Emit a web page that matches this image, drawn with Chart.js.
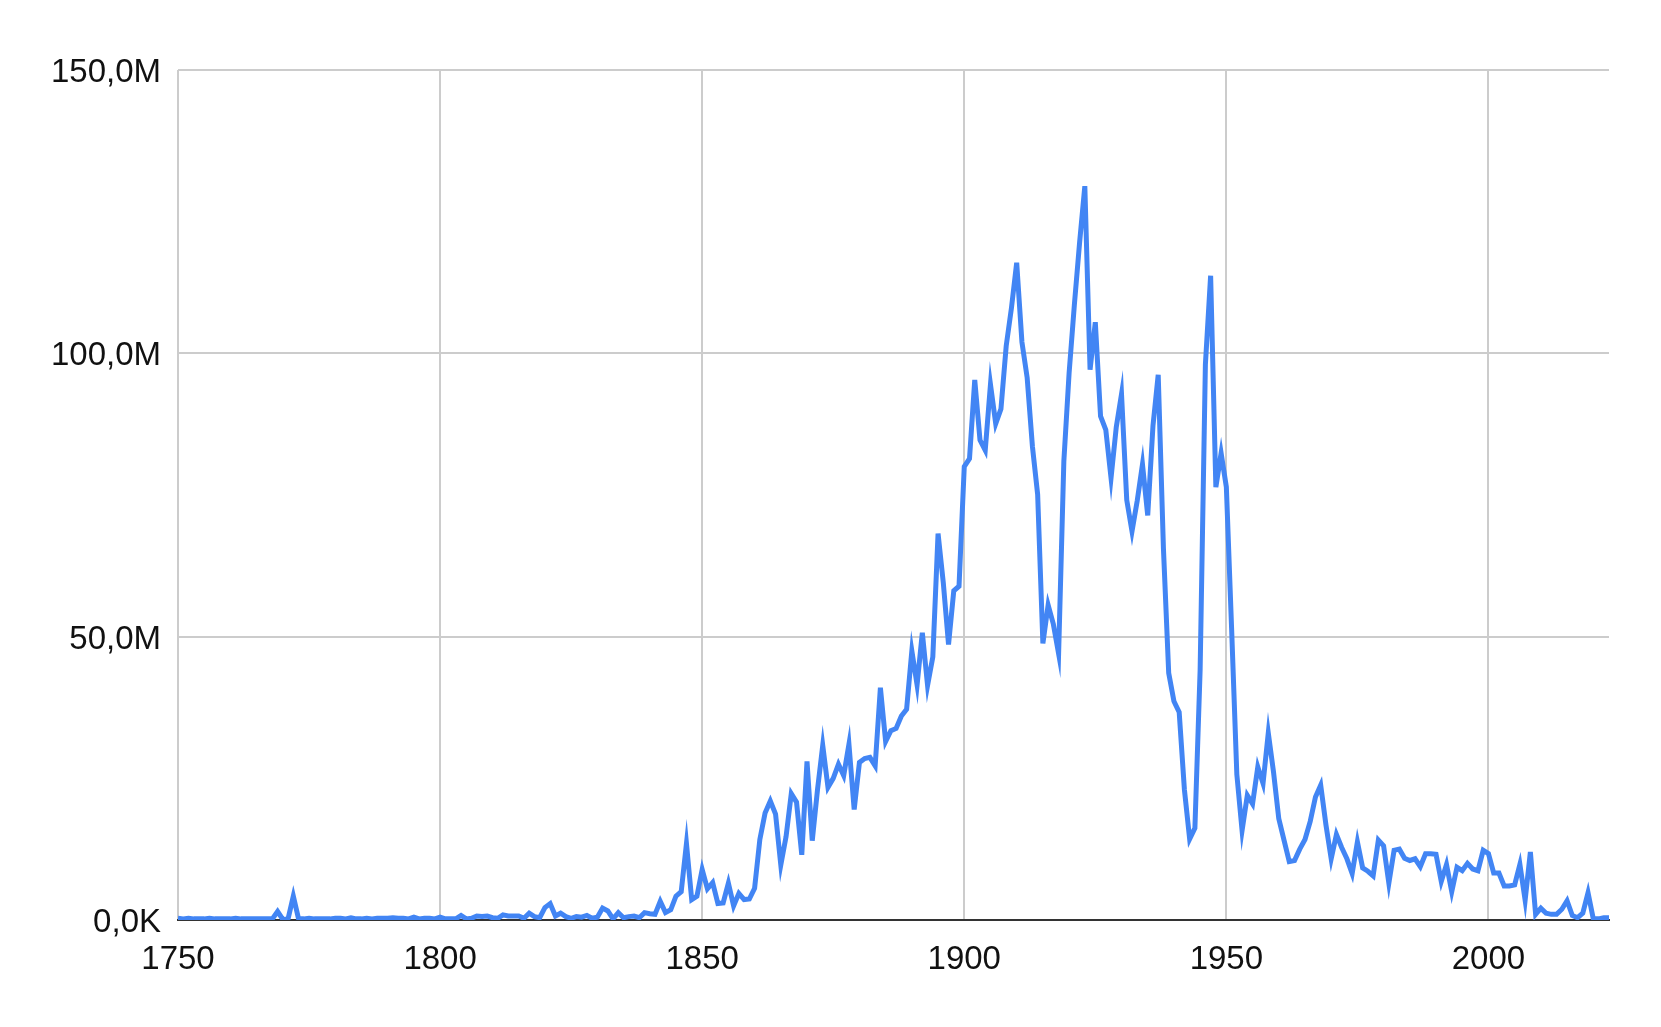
<!DOCTYPE html>
<html>
<head>
<meta charset="utf-8">
<title>Yearly counts 1750-2023</title>
<script src="https://cdn.jsdelivr.net/npm/chart.js@4.4.1/dist/chart.umd.min.js"></script>
<style>
  html, body { margin: 0; padding: 0; background: #fff; }
  #wrap { width: 1661px; height: 1027px; }
</style>
</head>
<body>
<div id="wrap"><canvas id="mainChart" width="1661" height="1027"></canvas></div>
<script>
const firstYear = 1750;
const lastYear = 2023;
const yearTicks = [1750, 1800, 1850, 1900, 1950, 2000];
const valueTicks = [0, 50, 100, 150];

// one value per year, in millions, 1750..2023
const countsMillions = [
    0.3, 0.2, 0.3, 0.2, 0.2, 0.2, 0.3, 0.2, 0.2, 0.2,
    0.2, 0.3, 0.2, 0.2, 0.2, 0.2, 0.2, 0.2, 0.2, 1.5,
    0.1, 0.2, 4.2, 0.2, 0.2, 0.3, 0.2, 0.2, 0.2, 0.2,
    0.3, 0.3, 0.2, 0.4, 0.2, 0.2, 0.3, 0.2, 0.3, 0.3,
    0.3, 0.4, 0.3, 0.3, 0.2, 0.5, 0.2, 0.3, 0.3, 0.2,
    0.5, 0.2, 0.2, 0.2, 0.8, 0.2, 0.3, 0.7, 0.6, 0.7,
    0.4, 0.3, 0.9, 0.7, 0.7, 0.7, 0.3, 1.2, 0.6, 0.4,
    2.2, 2.9, 0.7, 1.2, 0.6, 0.3, 0.6, 0.5, 0.8, 0.3,
    0.5, 2.1, 1.6, 0.2, 1.3, 0.4, 0.6, 0.7, 0.4, 1.3,
    1.1, 1.0, 3.3, 1.3, 1.8, 4.2, 5.0, 13.5, 3.6, 4.2,
    8.9, 5.5, 6.6, 2.9, 3.0, 6.5, 2.5, 4.7, 3.6, 3.7,
    5.6, 14.2, 18.9, 21.0, 18.7, 9.7, 14.7, 22.3, 20.8, 11.5,
    28.0, 14.0, 23.0, 30.8, 23.4, 25.0, 27.5, 25.5, 31.0, 19.5,
    27.8, 28.5, 28.7, 27.2, 41.0, 31.5, 33.4, 33.8, 36.0, 37.2,
    47.5, 41.5, 50.7, 41.4, 46.4, 68.2, 59.5, 48.6, 58.1, 58.9,
    80.0, 81.4, 95.3, 84.7, 82.9, 94.5, 87.6, 90.2, 101.3, 108.0,
    116.0, 102.0, 95.7, 83.6, 75.1, 48.8, 55.6, 52.2, 47.0, 81.0,
    96.5, 108.5, 119.5, 129.5, 97.1, 105.5, 88.9, 86.5, 78.0, 87.0,
    92.8, 74.1, 68.6, 74.0, 80.4, 71.4, 87.2, 96.2, 65.5, 43.6,
    38.6, 36.7, 23.0, 14.3, 16.2, 44.2, 98.0, 113.7, 76.4, 82.4,
    76.4, 51.5, 25.7, 15.8, 22.0, 20.5, 27.0, 24.1, 33.0, 26.1,
    17.9, 14.1, 10.3, 10.5, 12.5, 14.2, 17.4, 21.7, 23.8, 16.8,
    10.8, 15.1, 12.8, 10.8, 8.2, 13.8, 9.2, 8.6, 7.8, 14.1,
    13.1, 6.5, 12.3, 12.5, 10.9, 10.5, 10.8, 9.4, 11.7, 11.7,
    11.6, 6.8, 9.8, 5.0, 9.3, 8.7, 10.0, 9.0, 8.7, 12.3,
    11.7, 8.3, 8.3, 6.0, 6.0, 6.2, 9.8, 3.5, 12.0, 1.0,
    2.1, 1.2, 1.0, 1.0, 1.9, 3.4, 0.8, 0.4, 1.2, 4.8,
    0.2, 0.2, 0.4, 0.4
];

const labelFont = { family: '"Liberation Sans", Arial, sans-serif', size: 33 };

document.addEventListener('DOMContentLoaded', () => {
    drawChart();
});

function formatValue(v) {
    if (v === 0) return '0,0K';
    return v.toFixed(1).replace('.', ',') + 'M';
}

function drawChart() {
    const points = countsMillions.map((v, i) => ({ x: firstYear + i, y: v }));

    new Chart(document.getElementById('mainChart'), {
        type: 'line',
        data: {
            datasets: [{
                data: points,
                borderColor: '#4285f4',
                borderWidth: 5,
                pointRadius: 0,
                tension: 0,
                fill: false,
            }]
        },
        options: {
            responsive: false,
            animation: false,
            devicePixelRatio: 1,
            layout: {
                padding: { top: 70, right: 52, left: 0, bottom: 0 }
            },
            plugins: {
                legend: { display: false },
                tooltip: { enabled: false }
            },
            scales: {
                x: {
                    type: 'linear',
                    min: firstYear,
                    max: lastYear,
                    afterBuildTicks: axis => {
                        axis.ticks = yearTicks.map(v => ({ value: v }));
                    },
                    afterFit: scale => { scale.height = 107; },
                    ticks: {
                        color: '#111',
                        font: labelFont,
                        padding: 20,
                        maxRotation: 0,
                        callback: v => String(v),
                    },
                    grid: {
                        color: '#cccccc',
                        lineWidth: 2,
                        drawTicks: false,
                    },
                    border: {
                        display: true,
                        color: '#333333',
                        width: 2,
                    }
                },
                y: {
                    min: 0,
                    max: 150,
                    afterBuildTicks: axis => {
                        axis.ticks = valueTicks.map(v => ({ value: v }));
                    },
                    afterFit: scale => { scale.width = 178; },
                    ticks: {
                        color: '#111',
                        font: labelFont,
                        padding: 17,
                        labelOffset: 3,
                        callback: v => formatValue(v),
                    },
                    grid: {
                        color: ctx => ctx.tick && ctx.tick.value === 0 ? '#333333' : '#cccccc',
                        lineWidth: 2,
                        drawTicks: false,
                    },
                    border: { display: false }
                }
            }
        }
    });
}
</script>
</body>
</html>
